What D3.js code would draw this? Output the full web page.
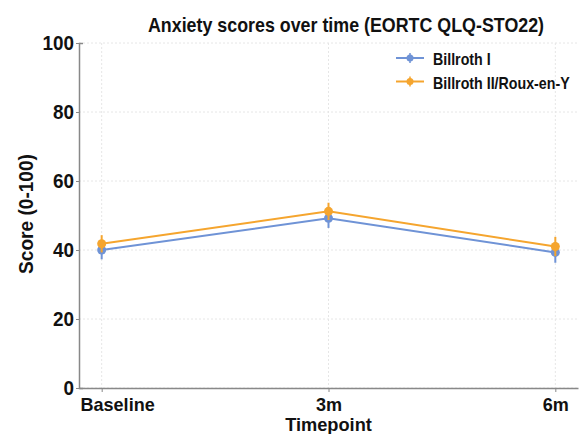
<!DOCTYPE html>
<html>
<head>
<meta charset="utf-8">
<script src="https://cdn.jsdelivr.net/npm/d3@7"></script>
<style>
  body { margin: 0; background: #fff; }
  text { font-family: "Liberation Sans Narrow", "Liberation Sans", Arial, sans-serif; font-weight: bold; fill: #111; }
</style>
</head>
<body>
<div id="chart"></div>
<script>
// data
var timepoints = ["Baseline", "3m", "6m"];
var seriesNames = ["Billroth I", "Billroth II/Roux-en-Y"];
var billroth1 = [40.0, 49.2, 39.3];
var billroth1Err = [2.7, 2.8, 3.0];
var billroth2 = [41.8, 51.2, 41.0];
var billroth2Err = [2.5, 2.5, 2.8];
var yTicks = [0, 20, 40, 60, 80, 100];
var colors = ["#6f93d6", "#f5a52e"];

var svgWidth = 580;
var svgHeight = 434;
var margin = { top: 43, right: 2, bottom: 46, left: 79 };
var width = svgWidth - margin.left - margin.right;
var height = svgHeight - margin.top - margin.bottom;

// squeeze text horizontally to a condensed look
function narrow(sel, factor) {
  sel.each(function() {
    var t = d3.select(this);
    var tx = +t.attr("x") || 0, ty = +t.attr("y") || 0;
    t.attr("x", 0).attr("y", 0)
      .attr("transform", `translate(${tx}, ${ty}) scale(${factor}, 1)`);
  });
}

var svg = d3.select("#chart")
  .append("svg")
  .attr("width", svgWidth)
  .attr("height", svgHeight);

var g = svg.append("g")
  .attr("transform", `translate(${margin.left}, ${margin.top})`);

var x = d3.scalePoint()
  .domain(timepoints)
  .range([0, width])
  .padding(0.1);

var y = d3.scaleLinear()
  .domain([0, 100])
  .range([height, 0]);

// grid
g.append("g").selectAll("line")
  .data(yTicks)
  .enter().append("line")
  .attr("x1", 0).attr("x2", width)
  .attr("y1", d => y(d)).attr("y2", d => y(d))
  .attr("stroke", "#e6e6e6")
  .attr("stroke-dasharray", "2,2");

g.append("g").selectAll("line")
  .data(timepoints)
  .enter().append("line")
  .attr("x1", d => x(d)).attr("x2", d => x(d))
  .attr("y1", 0).attr("y2", height)
  .attr("stroke", "#e6e6e6")
  .attr("stroke-dasharray", "2,2");

// axes
var xAxis = g.append("g")
  .attr("transform", `translate(0, ${height})`)
  .call(d3.axisBottom(x).tickSize(4).tickSizeOuter(0));
xAxis.selectAll("text").attr("font-size", 19).attr("y", 6).attr("dy", "0.9em");
// first label sits flush with the y axis
xAxis.selectAll(".tick text")
  .filter(d => d === "Baseline")
  .attr("text-anchor", "start")
  .attr("x", -x("Baseline") + 1);

var yAxis = g.append("g")
  .call(d3.axisLeft(y).tickValues(yTicks).tickSize(3).tickSizeOuter(-4));
yAxis.selectAll("text").attr("font-size", 21).attr("x", -5);

svg.selectAll(".domain").attr("stroke", "#888").attr("stroke-width", 1.5);
svg.selectAll(".tick line").attr("stroke", "#888");

// axis titles
var xTitle = svg.append("text")
  .attr("x", margin.left + width / 2)
  .attr("y", 431)
  .attr("text-anchor", "middle")
  .attr("font-size", 19)
  .text("Timepoint");

var yTitle = svg.append("text")
  .attr("transform", "translate(33, 214) rotate(-90) scale(0.91, 1)")
  .attr("text-anchor", "middle")
  .attr("font-size", 21)
  .text("Score (0-100)");

// title
var title = svg.append("text")
  .attr("x", 346)
  .attr("y", 32)
  .attr("text-anchor", "middle")
  .attr("font-size", 21)
  .text("Anxiety scores over time (EORTC QLQ-STO22)");

// series
var series = [
  { name: seriesNames[0], values: billroth1, err: billroth1Err, color: colors[0] },
  { name: seriesNames[1], values: billroth2, err: billroth2Err, color: colors[1] }
];

var line = d3.line()
  .x((d, i) => x(timepoints[i]))
  .y(d => y(d));

series.forEach(function(s) {
  var sg = g.append("g");
  sg.selectAll("line.err")
    .data(s.values)
    .enter().append("line")
    .attr("class", "err")
    .attr("x1", (d, i) => x(timepoints[i]))
    .attr("x2", (d, i) => x(timepoints[i]))
    .attr("y1", (d, i) => y(d - s.err[i]))
    .attr("y2", (d, i) => y(d + s.err[i]))
    .attr("stroke", s.color)
    .attr("stroke-width", 2);
  sg.append("path")
    .datum(s.values)
    .attr("d", line)
    .attr("fill", "none")
    .attr("stroke", s.color)
    .attr("stroke-width", 2);
  sg.selectAll("circle")
    .data(s.values)
    .enter().append("circle")
    .attr("cx", (d, i) => x(timepoints[i]))
    .attr("cy", d => y(d))
    .attr("r", 4.5)
    .attr("fill", s.color);
});

// legend
var legend = svg.append("g").attr("transform", "translate(396, 58)");
series.forEach(function(s, i) {
  var row = legend.append("g").attr("transform", `translate(0, ${i * 23.5})`);
  row.append("line").attr("x1", 0).attr("x2", 28).attr("y1", 0).attr("y2", 0)
    .attr("stroke", s.color).attr("stroke-width", 2);
  row.append("line").attr("x1", 14).attr("x2", 14).attr("y1", -5).attr("y2", 5)
    .attr("stroke", s.color).attr("stroke-width", 1.5);
  row.append("circle").attr("cx", 14).attr("cy", 0).attr("r", 3.5).attr("fill", s.color);
  row.append("text").attr("class", "leg").attr("x", 37).attr("y", 7).attr("font-size", 16).text(s.name);
});

// condensed look
narrow(title, 0.85);
narrow(xAxis.selectAll("text"), 0.95);
narrow(yAxis.selectAll("text"), 0.9);
narrow(xTitle, 0.96);
narrow(legend.selectAll("text"), 0.89);
</script>
</body>
</html>
